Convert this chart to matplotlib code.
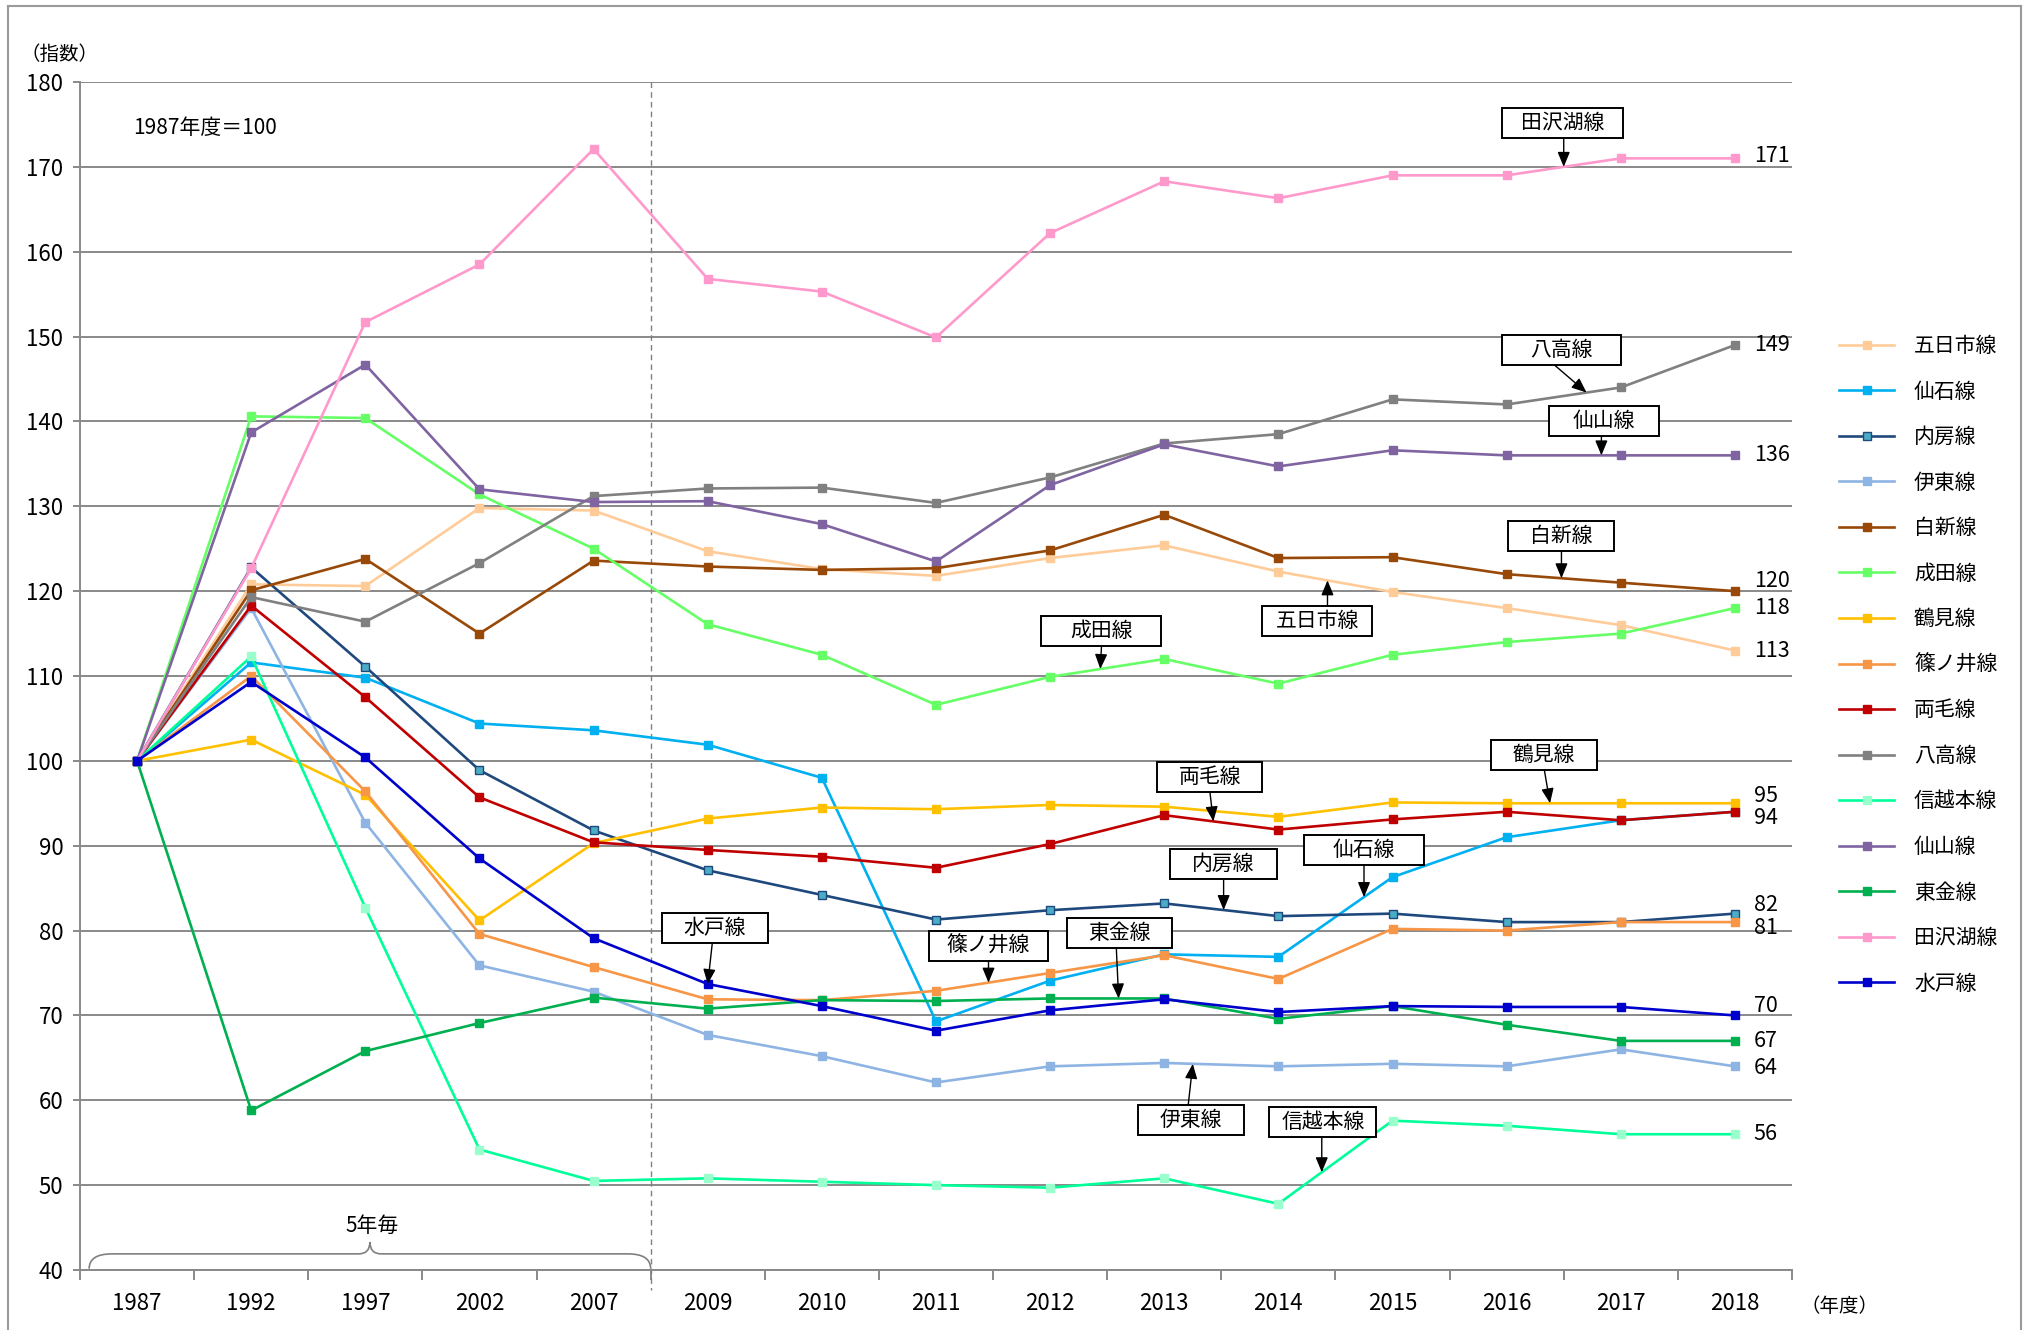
import numpy as np
import matplotlib
matplotlib.use("Agg")
import matplotlib.pyplot as plt
from matplotlib.patches import Rectangle, PathPatch
from matplotlib.path import Path
from matplotlib.lines import Line2D

plt.rcParams['font.family'] = ['Noto Sans CJK JP', 'DejaVu Sans']

# ---- data (index, 1987 = 100) ----
years = ['1987', '1992', '1997', '2002', '2007', '2009', '2010', '2011',
         '2012', '2013', '2014', '2015', '2016', '2017', '2018']

itsukaichi = [100, 120.8, 120.6, 129.8, 129.5, 124.7, 122.6, 121.8, 123.9, 125.4, 122.3, 119.9, 118.0, 116.0, 113]
senseki    = [100, 111.6, 109.8, 104.4, 103.6, 101.9, 98.0, 69.3, 74.1, 77.2, 76.9, 86.3, 91.0, 93.0, 94]
uchibo     = [100, 122.8, 111.1, 98.9, 91.8, 87.1, 84.2, 81.3, 82.4, 83.2, 81.7, 82.0, 81.0, 81.0, 82]
ito        = [100, 118.0, 92.7, 75.9, 72.8, 67.7, 65.2, 62.1, 64.0, 64.4, 64.0, 64.3, 64.0, 66.0, 64]
hakushin   = [100, 120.1, 123.8, 115.0, 123.6, 122.9, 122.5, 122.7, 124.8, 129.0, 123.9, 124.0, 122.0, 121.0, 120]
narita     = [100, 140.6, 140.4, 131.4, 125.0, 116.1, 112.5, 106.6, 109.9, 112.0, 109.1, 112.5, 114.0, 115.0, 118]
tsurumi    = [100, 102.5, 96.0, 81.2, 90.3, 93.2, 94.5, 94.3, 94.8, 94.6, 93.4, 95.1, 95.0, 95.0, 95]
shinonoi   = [100, 110.0, 96.4, 79.6, 75.7, 71.9, 71.8, 72.9, 75.0, 77.1, 74.3, 80.2, 80.0, 81.0, 81]
ryomo      = [100, 118.3, 107.5, 95.7, 90.4, 89.5, 88.7, 87.4, 90.2, 93.6, 91.9, 93.1, 94.0, 93.0, 94]
hachiko    = [100, 119.3, 116.4, 123.3, 131.2, 132.1, 132.2, 130.4, 133.4, 137.4, 138.5, 142.6, 142.0, 144.0, 149]
shinetsu   = [100, 112.3, 82.7, 54.2, 50.5, 50.8, 50.4, 50.0, 49.7, 50.8, 47.8, 57.6, 57.0, 56.0, 56]
senzan     = [100, 138.7, 146.7, 132.0, 130.5, 130.6, 127.9, 123.5, 132.5, 137.3, 134.7, 136.6, 136.0, 136.0, 136]
togane     = [100, 58.8, 65.8, 69.1, 72.1, 70.8, 71.8, 71.7, 72.0, 72.0, 69.6, 71.1, 68.9, 67.0, 67]
tazawako   = [100, 122.7, 151.7, 158.5, 172.1, 156.8, 155.3, 149.9, 162.2, 168.3, 166.3, 169.0, 169.0, 171.0, 171]
mito       = [100, 109.3, 100.4, 88.5, 79.1, 73.7, 71.1, 68.2, 70.6, 71.9, 70.4, 71.1, 71.0, 71.0, 70]

line_names = ['五日市線', '仙石線', '内房線', '伊東線', '白新線', '成田線', '鶴見線', '篠ノ井線',
              '両毛線', '八高線', '信越本線', '仙山線', '東金線', '田沢湖線', '水戸線']
line_values = [itsukaichi, senseki, uchibo, ito, hakushin, narita, tsurumi, shinonoi,
               ryomo, hachiko, shinetsu, senzan, togane, tazawako, mito]

# ---- styles ----
line_colors = ['#FFCC99', '#00B0F0', '#1F497D', '#8EB4E3', '#984807', '#66FF66', '#FFC000', '#F79646',
               '#C00000', '#808080', '#00FF99', '#8064A2', '#00B050', '#FF99CC', '#0000CC']
marker_faces = ['#FFCC99', '#00B0F0', '#4BACC6', '#8EB4E3', '#984807', '#66FF66', '#FFC000', '#F79646',
                '#C00000', '#808080', '#99FFCC', '#8064A2', '#00B050', '#FF99CC', '#0000CC']
marker_edges = ['#FFCC99', '#00B0F0', '#1F497D', '#8EB4E3', '#984807', '#66FF66', '#FFC000', '#F79646',
                '#C00000', '#808080', '#99FFCC', '#8064A2', '#00B050', '#FF99CC', '#0000CC']

# series that get a value label at the right end, with small vertical nudges (pt)
end_label_series = ['田沢湖線', '八高線', '仙山線', '白新線', '成田線', '五日市線', '鶴見線', '両毛線',
                    '内房線', '篠ノ井線', '水戸線', '東金線', '伊東線', '信越本線']
end_label_nudge = [1.5, 0, 0, 7, 0, 0, 5, -4.5, 6.5, -4, 6.5, 0, -1.5, 0]

# callouts: name, box centre (x index, y), box width px, arrow start x, arrow tip x
callouts = [
    ('田沢湖線', 12.49, 175.2, 121, 12.50, 12.50),
    ('八高線',   12.48, 148.4, 119, 12.42, 12.70),
    ('仙山線',   12.85, 140.0, 110, 12.83, 12.83),
    ('白新線',   12.48, 126.5, 106, 12.48, 12.48),
    ('五日市線', 10.34, 116.5, 110, 10.43, 10.43),
    ('成田線',    8.45, 115.3, 120, 8.45, 8.44),
    ('両毛線',    9.40,  98.1, 105, 9.40, 9.43),
    ('鶴見線',   12.33, 100.7, 106, 12.33, 12.38),
    ('内房線',    9.52,  87.8, 107, 9.52, 9.52),
    ('仙石線',   10.75,  89.5, 120, 10.75, 10.75),
    ('水戸線',    5.06,  80.3, 106, 5.04, 5.00),
    ('篠ノ井線',  7.46,  78.2, 119, 7.46, 7.46),
    ('東金線',    8.61,  79.7, 105, 8.58, 8.60),
    ('伊東線',    9.23,  57.7, 106, 9.21, 9.25),
    ('信越本線', 10.39,  57.4, 107, 10.38, 10.38),
]

W, H, DPI = 2026, 1330, 100
AX_L, AX_R, AX_T, AX_B = 80, 1792, 82, 1270
fig = plt.figure(figsize=(W / DPI, H / DPI), dpi=DPI)
ax = fig.add_axes([AX_L / W, (H - AX_B) / H, (AX_R - AX_L) / W, (AX_B - AX_T) / H])

YMIN, YMAX = 40, 180
x = np.arange(len(years))
px_per_x = (AX_R - AX_L) / len(years)
px_per_y = (AX_B - AX_T) / (YMAX - YMIN)

grid_c = '#898989'

handles = []
for name, vals, c, mf, me in zip(line_names, line_values, line_colors, marker_faces, marker_edges):
    h, = ax.plot(x, vals, color=c, lw=1.9, marker='s', ms=5.2, mfc=mf, mec=me,
                 mew=1.0, label=name, zorder=3)
    handles.append(h)

ax.set_xlim(-0.5, len(years) - 0.5)
ax.set_ylim(YMIN, YMAX)
ax.set_yticks(np.arange(YMIN, YMAX + 1, 10))
ax.yaxis.grid(True, color=grid_c, lw=1.4)
ax.set_axisbelow(True)
for s in ['top', 'right']:
    ax.spines[s].set_visible(False)
for s in ['left', 'bottom']:
    ax.spines[s].set_color(grid_c)
    ax.spines[s].set_linewidth(1.4)

ax.tick_params(axis='y', length=5, width=1.4, color=grid_c, labelsize=16, pad=7)
ax.set_xticks(x)
ax.set_xticklabels(years)
ax.tick_params(axis='x', which='major', length=0, pad=16, labelsize=16)
ax.set_xticks(np.arange(-0.5, len(years), 1.0), minor=True)
ax.tick_params(axis='x', which='minor', length=7, width=1.4, color=grid_c)

# separator between five-year steps and yearly steps
ax.plot([4.5, 4.5], [YMAX, YMIN - 20 / px_per_y], ls=(0, (4, 3)), color='#808080',
        lw=1.0, clip_on=False, zorder=2)

# brace over the five-year section
bx0, bx1 = -0.42, 4.5
bxm = (bx0 + bx1) / 2
y_end, y_line, y_peak = 40.15, 41.9, 43.3
r_end, r_mid = 0.2, 0.1
verts = [(bx0, y_end), (bx0, y_line), (bx0 + r_end, y_line),
         (bxm - r_mid, y_line), (bxm, y_line), (bxm, y_peak),
         (bxm, y_line), (bxm + r_mid, y_line),
         (bx1 - r_end, y_line), (bx1, y_line), (bx1, y_end)]
codes = [Path.MOVETO, Path.CURVE3, Path.CURVE3,
         Path.LINETO, Path.CURVE3, Path.CURVE3,
         Path.CURVE3, Path.CURVE3,
         Path.LINETO, Path.CURVE3, Path.CURVE3]
ax.add_patch(PathPatch(Path(verts, codes), fill=False, edgecolor='#808080', lw=1.2, zorder=2))
ax.text(bxm + 0.02, 45.2, '5年毎', ha='center', va='center', fontsize=15)

# values at the right end
for name, nudge in zip(end_label_series, end_label_nudge):
    vals = line_values[line_names.index(name)]
    v = vals[-1]
    ax.annotate(f'{v:g}', xy=(x[-1], v), xytext=(13.5, nudge), textcoords='offset points',
                ha='left', va='center', fontsize=15.5)

# callout boxes with arrows
box_h = 30 / px_per_y
for name, cx, cy, wpx, sx, tx in callouts:
    vals = line_values[line_names.index(name)]
    ty = float(np.interp(tx, x, vals))
    bw = wpx / px_per_x
    ax.add_patch(Rectangle((cx - bw / 2, cy - box_h / 2), bw, box_h, facecolor='white',
                           edgecolor='black', lw=1.4, zorder=6))
    ax.text(cx, cy, name, ha='center', va='center', fontsize=15, zorder=7)
    sy = cy - box_h / 2 if ty < cy else cy + box_h / 2
    ax.annotate('', xy=(tx, ty), xytext=(sx, sy),
                arrowprops=dict(arrowstyle='-|>,head_length=0.6,head_width=0.25',
                                color='black', lw=1.0, shrinkA=0, shrinkB=0,
                                mutation_scale=15), zorder=6)

# legend
ax.legend(handles=handles, loc='upper left', bbox_to_anchor=(1839 / W, 1 - 335 / H),
          bbox_transform=fig.transFigure, frameon=False, fontsize=15,
          handlelength=2.65, handletextpad=0.95, labelspacing=1.13,
          borderpad=0, borderaxespad=0)

# titles and units
fig.text(20 / W, 1 - 54 / H, '（指数）', ha='left', va='center', fontsize=14)
fig.text(133 / W, 1 - 128 / H, '1987年度＝100', ha='left', va='center', fontsize=15)
fig.text(1800 / W, 1 - 1307 / H, '（年度）', ha='left', va='center', fontsize=14)

# outer frame
frame_c = '#9a9a9a'
fig.add_artist(Line2D([8 / W, 8 / W], [0, 1 - 6 / H], transform=fig.transFigure, color=frame_c, lw=1.5))
fig.add_artist(Line2D([8 / W, 2021 / W], [1 - 6 / H, 1 - 6 / H], transform=fig.transFigure, color=frame_c, lw=1.5))
fig.add_artist(Line2D([2021 / W, 2021 / W], [0, 1 - 6 / H], transform=fig.transFigure, color=frame_c, lw=1.5))

fig.savefig('out.png', dpi=DPI)
